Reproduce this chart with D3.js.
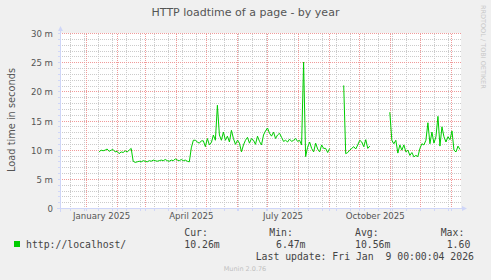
<!DOCTYPE html>
<html><head><meta charset="utf-8">
<script src="https://cdn.jsdelivr.net/npm/d3@7"></script>
<style>html,body{margin:0;padding:0;background:#f0f0f0;}svg{display:block;}</style>
</head><body>
<svg id="c" width="491" height="280"></svg>
<script>
// ---- data ----
const title = "HTTP loadtime of a page - by year";
const yAxisTitle = "Load time in seconds";
const seriesName = "http://localhost/";
const startDate = "2025-01-14";   // first sample
const stepDays = 2;               // one sample every 2 days
// load time in milliseconds ("m" units), null = no data
const loadMs = [
  9.7, 10.0, 9.9, 10.0, 10.2, 9.8, 10.0, 10.1, 9.7, 9.8, 9.4, 9.7, 9.6, 9.9, 9.7, 10.0, 10.3,
  8.1, 7.9, 8.0, 8.1, 8.0, 8.2, 8.1, 8.0, 8.2, 8.1, 8.3, 8.2, 8.1, 8.2, 8.3, 8.2, 8.4, 8.2, 8.1, 8.3, 8.2, 8.5, 8.3, 8.2, 8.4, 8.2, 8.3, 8.1, 8.0,
  10.4, 11.7, 11.7, 11.4, 11.2, 11.6, 11.6, 10.6, 12.0, 10.9, 11.3, 12.6, 11.7, 17.7, 12.6, 11.7, 13.1, 11.7, 12.4, 11.4,
  13.4, 12.0, 11.0, 11.7, 11.2, 9.7, 10.9, 11.7, 12.2, 11.2, 12.0, 11.7, 11.0, 12.4, 11.5, 10.9, 12.6, 13.3, 13.8, 12.9,
  12.4, 13.1, 12.0, 12.6, 12.9, 12.2, 11.5, 11.7, 11.4, 11.9, 11.5, 11.7, 12.0, 11.5, 11.7, 10.9, 25.1, 8.9,
  10.5, 11.4, 10.3, 9.7, 11.2, 10.2, 9.7, 10.9, 10.3, 10.3, 9.6, 10.3,
  null, null, null, null, null, null,
  21.1, 9.4, 9.6, 10.0, 10.3, 10.6, 10.2, 10.9, 11.7, 11.4, 10.6, 11.8, 10.3, 10.7,
  null, null, null, null, null, null, null, null, null,
  16.5, 11.7, 11.1, 11.7, 9.5, 10.9, 10.0, 10.9, 9.7, 10.0, 9.1, 9.6, 8.85, 9.1, 8.9, 10.3, 11.1, 10.9, 11.7, 14.7,
  11.1, 13.1, 11.2, 12.3, 15.8, 10.7, 14.0, 12.3, 11.4, 12.3, 11.8, 13.3, 10.0, 9.7, 10.7, 10.1
];
const yTicks = [0, 5, 10, 15, 20, 25, 30];
const yTickLabels = ["0", "5 m", "10 m", "15 m", "20 m", "25 m", "30 m"];
const xLabelMonths = ["2025-01", "2025-04", "2025-07", "2025-10"];
const xLabels = ["January 2025", "April 2025", "July 2025", "October 2025"];
const legendHeads = ["Cur:", "Min:", "Avg:", "Max:"];
const legendValues = ["10.26m", "6.47m", "10.56m", "1.60"];
const lastUpdate = "Last update: Fri Jan  9 00:00:04 2026";
const watermark = "Munin 2.0.76";
const sideText = "RRDTOOL / TOBI OETIKER";
const rangeStart = "2024-12-06", rangeEnd = "2026-01-09";

// ---- drawing ----
const parse = s => { const p = s.split("-").map(Number); return new Date(p[0], p[1]-1, p[2] || 1); };
const svg = d3.select("#c");
const W = 491, H = 280;
svg.append("rect").attr("width", W).attr("height", H).attr("fill", "#f0f0f0");

const x = d3.scaleTime().domain([parse(rangeStart), parse(rangeEnd)]).range([60, 460]);
const y = d3.scaleLinear().domain([0, 30]).range([208.5, 33.5]);

const t0 = parse(startDate);
const data = loadMs.map((v, i) => ({ t: d3.timeDay.offset(t0, i * stepDays), v }));

svg.append("rect").attr("x", 60).attr("y", 33).attr("width", 401).attr("height", 176).attr("fill", "#ffffff");

// dotted patterns (1 px on / 1 px off)
const gray = "#cbcbcb", red = "#f09a9a";
const defs = svg.append("defs");
function pat(id, w, h, col) {
  const p = defs.append("pattern").attr("id", id).attr("patternUnits", "userSpaceOnUse")
    .attr("x", 0).attr("y", 0).attr("width", w).attr("height", h);
  p.append("rect").attr("x", 0).attr("y", 0).attr("width", 1).attr("height", 1).attr("fill", col);
}
pat("hg", 2, 1, gray); pat("vg", 1, 2, gray); pat("hr", 2, 1, red); pat("vr", 1, 2, red);

const gGrid = svg.append("g").attr("shape-rendering", "crispEdges");
const pi = v => Math.floor(v);
const minorY = d3.range(0, 31, 1).filter(v => v % 5 !== 0);
const ref = parse("2024-12-16");
const minorX = d3.timeMonday.range(x.domain()[0], x.domain()[1])
  .filter(d => Math.round((d - ref) / 864e5) % 14 === 0);
const months = d3.timeMonth.range(x.domain()[0], x.domain()[1]);

gGrid.selectAll("rect.hy").data(minorY).join("rect")
  .attr("x", 60).attr("width", 401).attr("y", d => pi(y(d))).attr("height", 1).attr("fill", "url(#hg)");
gGrid.selectAll("rect.vx").data(minorX).join("rect")
  .attr("x", d => pi(x(d))).attr("width", 1).attr("y", 33).attr("height", 176).attr("fill", "url(#vg)");
gGrid.selectAll("rect.my").data(yTicks).join("rect")
  .attr("x", 60).attr("width", 401).attr("y", d => pi(y(d))).attr("height", 1).attr("fill", "url(#hr)");
gGrid.selectAll("rect.mx").data(months).join("rect")
  .attr("x", d => pi(x(d))).attr("width", 1).attr("y", 33).attr("height", 176).attr("fill", "url(#vr)");

// axes
const axisCol = "#cfd6f8";
const gAx = svg.append("g").attr("shape-rendering", "crispEdges");
gAx.append("line").attr("x1", 60.5).attr("x2", 60.5).attr("y1", 30).attr("y2", 212).attr("stroke", axisCol);
gAx.append("line").attr("x1", 57).attr("x2", 463).attr("y1", 208.5).attr("y2", 208.5).attr("stroke", axisCol);
gAx.selectAll("line.ty").data(d3.range(0, 31, 1)).join("line")
  .attr("x1", 58).attr("x2", 60).attr("y1", d => pi(y(d)) + 0.5).attr("y2", d => pi(y(d)) + 0.5).attr("stroke", axisCol);
gAx.selectAll("line.tx").data(minorX.concat(months)).join("line")
  .attr("x1", d => pi(x(d)) + 0.5).attr("x2", d => pi(x(d)) + 0.5).attr("y1", 209).attr("y2", 211).attr("stroke", axisCol);
svg.append("path").attr("d", "M58,31 L63,31 L60.5,26 Z").attr("fill", axisCol);
svg.append("path").attr("d", "M462,206 L462,211 L467,208.5 Z").attr("fill", axisCol);

// series line
const line = d3.line().defined(d => d.v !== null).x(d => x(d.t)).y(d => y(d.v));
svg.append("path").datum(data).attr("d", line).attr("fill", "none")
  .attr("stroke", "#00cc00").attr("stroke-width", 1);

// text
const sans = "'DejaVu Sans', sans-serif", mono = "'DejaVu Sans Mono', monospace";
svg.append("text").attr("x", 245.5).attr("y", 16).attr("text-anchor", "middle")
  .attr("font-family", sans).attr("font-size", 11).attr("fill", "#555").text(title);
svg.selectAll("text.yl").data(yTicks).join("text")
  .attr("x", 53).attr("y", d => y(d) + 3.5).attr("text-anchor", "end")
  .attr("font-family", sans).attr("font-size", 8.6).attr("fill", "#555")
  .text((d, i) => yTickLabels[i]);
svg.selectAll("text.xl").data(xLabelMonths).join("text")
  .attr("x", d => { const m = parse(d); return (x(m) + x(d3.timeMonth.offset(m, 1))) / 2; })
  .attr("y", 218.5).attr("text-anchor", "middle")
  .attr("font-family", sans).attr("font-size", 8.6).attr("fill", "#555")
  .text((d, i) => xLabels[i]);
svg.append("text").attr("transform", "translate(15,120) rotate(-90)").attr("text-anchor", "middle")
  .attr("font-family", sans).attr("font-size", 9.8).attr("fill", "#555").text(yAxisTitle);
svg.append("text").attr("transform", "translate(481,5) rotate(90)").attr("text-anchor", "start")
  .attr("font-family", sans).attr("font-size", 6.5).attr("fill", "#c8c8c8").text(sideText);

// legend
svg.append("rect").attr("x", 14).attr("y", 241).attr("width", 6).attr("height", 6).attr("fill", "#00cc00");
const lg = svg.append("g").attr("font-family", mono).attr("font-size", 9.8).attr("fill", "#444")
  .style("white-space", "pre");
lg.append("text").attr("x", 26).attr("y", 247.5).text(seriesName);
const headX = [184.3, 269.3, 355, 440.7];
const valX = [184.3, 276, 355, 446.7];
lg.selectAll("text.h").data(legendHeads).join("text").attr("x", (d, i) => headX[i]).attr("y", 235.7).text(d => d);
lg.selectAll("text.v").data(legendValues).join("text").attr("x", (d, i) => valX[i]).attr("y", 247.5).text(d => d);
lg.append("text").attr("x", 255.7).attr("y", 259.5).attr("xml:space", "preserve").text(lastUpdate);
svg.append("text").attr("x", 245).attr("y", 270.5).attr("text-anchor", "middle")
  .attr("font-family", sans).attr("font-size", 6.5).attr("fill", "#c0c0c0").text(watermark);
</script>
</body></html>
